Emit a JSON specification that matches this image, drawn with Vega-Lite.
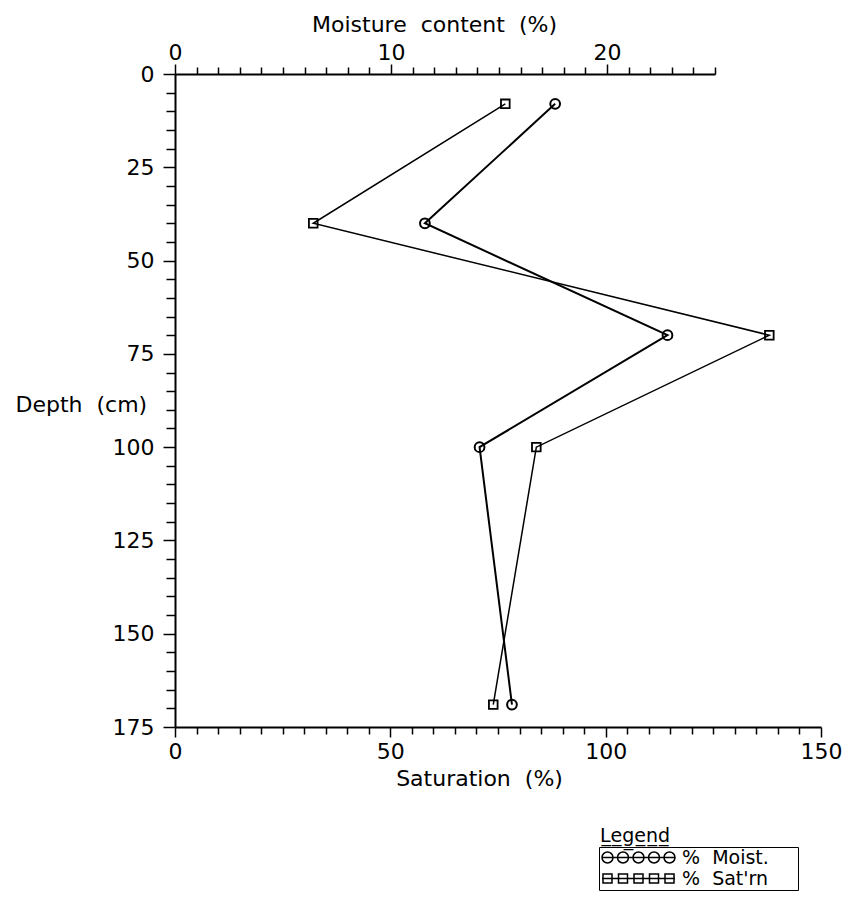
{
  "$schema": "https://vega.github.io/schema/vega-lite/v6.json",
  "width": 646,
  "height": 653,
  "autosize": "none",
  "padding": {"left": 175, "top": 74, "right": 27, "bottom": 171},
  "background": "white",
  "config": {
    "view": {"stroke": null},
    "font": "DejaVu Sans",
    "axis": {
      "grid": false,
      "domainColor": "black",
      "domainWidth": 2,
      "tickColor": "black",
      "tickWidth": 1.5,
      "labelColor": "black",
      "labelFont": "DejaVu Sans",
      "labelFontSize": 22,
      "labelFlush": false,
      "labelOverlap": false,
      "titleColor": "black",
      "titleFont": "DejaVu Sans",
      "titleFontSize": 22,
      "titleFontWeight": "normal"
    }
  },
  "encoding": {
    "y": {
      "field": "depth",
      "type": "quantitative",
      "scale": {"domain": [0, 175], "reverse": true, "nice": false, "zero": false},
      "axis": {
        "title": "Depth\u00a0\u00a0(cm)",
        "titleAngle": 0,
        "titleAlign": "left",
        "titleBaseline": "middle",
        "titleX": -160,
        "titleY": 330,
        "values": [0,5,10,15,20,25,30,35,40,45,50,55,60,65,70,75,80,85,90,95,100,105,110,115,120,125,130,135,140,145,150,155,160,165,170,175],
        "labelExpr": "datum.value % 25 === 0 ? datum.label : ''",
        "tickSize": {"condition": {"test": "datum.value % 25 === 0", "value": 12}, "value": 9},
        "labelPadding": 9
      }
    }
  },
  "layer": [
    {
      "data": {"values": [
        {"depth": 8, "moist": 17.6, "series": "Moist."},
        {"depth": 40, "moist": 11.57, "series": "Moist."},
        {"depth": 70, "moist": 22.8, "series": "Moist."},
        {"depth": 100, "moist": 14.1, "series": "Moist."},
        {"depth": 169, "moist": 15.6, "series": "Moist."}
      ]},
      "encoding": {
        "x": {
          "field": "moist",
          "type": "quantitative",
          "scale": {"domain": [0, 25], "range": [0, 540], "nice": false, "zero": false},
          "axis": {
            "orient": "top",
            "title": "Moisture\u00a0\u00a0content\u00a0\u00a0(%)",
            "titleX": 259,
            "titleY": -43,
            "titleBaseline": "alphabetic",
            "values": [0,1,2,3,4,5,6,7,8,9,10,11,12,13,14,15,16,17,18,19,20,21,22,23,24,25],
            "labelExpr": "datum.value % 10 === 0 ? datum.label : ''",
            "tickSize": {"condition": {"test": "datum.value % 10 === 0", "value": 10}, "value": 7},
            "labelPadding": 0
          }
        }
      },
      "layer": [
        {"mark": {"type": "line", "color": "black", "strokeWidth": 2}, "encoding": {"order": {"field": "depth", "type": "quantitative"}}},
        {"mark": {"type": "point", "shape": "circle", "color": "black", "strokeWidth": 2, "size": 95, "opacity": 1, "filled": false}}
      ]
    },
    {
      "data": {"values": [
        {"depth": 8, "sat": 76.7, "series": "Sat'rn"},
        {"depth": 40, "sat": 32.1, "series": "Sat'rn"},
        {"depth": 70, "sat": 138, "series": "Sat'rn"},
        {"depth": 100, "sat": 83.9, "series": "Sat'rn"},
        {"depth": 169, "sat": 73.9, "series": "Sat'rn"}
      ]},
      "encoding": {
        "x": {
          "field": "sat",
          "type": "quantitative",
          "scale": {"domain": [0, 150], "nice": false, "zero": false},
          "axis": {
            "orient": "bottom",
            "title": "Saturation\u00a0\u00a0(%)",
            "titleX": 304,
            "titleY": 58,
            "titleBaseline": "alphabetic",
            "values": [0,5,10,15,20,25,30,35,40,45,50,55,60,65,70,75,80,85,90,95,100,105,110,115,120,125,130,135,140,145,150],
            "labelExpr": "datum.value % 50 === 0 ? datum.label : ''",
            "tickSize": {"condition": {"test": "datum.value % 50 === 0", "value": 10}, "value": 7},
            "labelPadding": 4
          }
        }
      },
      "layer": [
        {"mark": {"type": "line", "color": "black", "strokeWidth": 1.5}, "encoding": {"order": {"field": "depth", "type": "quantitative"}}},
        {"mark": {"type": "point", "shape": "square", "color": "black", "strokeWidth": 1.8, "size": 75, "opacity": 1, "filled": false}},
        {"mark": {"type": "point", "color": "black", "strokeWidth": 1.5, "filled": false, "strokeOpacity": 0, "fillOpacity": 0},
         "encoding": {
           "shape": {"field": "series", "type": "nominal",
             "scale": {"domain": ["Moist.", "Sat'rn"], "range": [
               "M-7.3,0 L7.3,0 M-7.3,0 a1.1,1.1 0 1,0 2.2,0 a1.1,1.1 0 1,0 -2.2,0 M-4.2,0 a1.1,1.1 0 1,0 2.2,0 a1.1,1.1 0 1,0 -2.2,0 M-1.1,0 a1.1,1.1 0 1,0 2.2,0 a1.1,1.1 0 1,0 -2.2,0 M2,0 a1.1,1.1 0 1,0 2.2,0 a1.1,1.1 0 1,0 -2.2,0 M5.1,0 a1.1,1.1 0 1,0 2.2,0 a1.1,1.1 0 1,0 -2.2,0",
               "M-7.3,0 L7.3,0 M-7.1,-0.9 h1.8 v1.8 h-1.8 z M-4,-0.9 h1.8 v1.8 h-1.8 z M-0.9,-0.9 h1.8 v1.8 h-1.8 z M2.2,-0.9 h1.8 v1.8 h-1.8 z M5.3,-0.9 h1.8 v1.8 h-1.8 z"
             ]},
             "legend": {
               "orient": "none",
               "legendX": 424,
               "legendY": 773,
               "title": null,
               "padding": 1,
               "strokeColor": "black",
               "labelFont": "DejaVu Sans",
               "labelFontSize": 19,
               "labelColor": "black",
               "labelExpr": "'%\u00a0\u00a0' + datum.label + '\u2800\u2800'",
               "symbolSize": 100,
               "symbolStrokeColor": "black",
               "symbolStrokeWidth": 1.5,
               "symbolFillColor": "transparent",
               "symbolOpacity": 1,
               "symbolOffset": 29,
               "labelOffset": 34,
               "rowPadding": 1
             }
           },
           "opacity": {"datum": "Legend", "type": "ordinal",
             "scale": {"range": [0]},
             "legend": {
               "orient": "none",
               "legendX": 425,
               "legendY": 753,
               "title": "L\u0332e\u0332g\u0332e\u0332n\u0332d\u0332",
               "titleFont": "DejaVu Sans",
               "titleFontSize": 19,
               "titleFontWeight": "normal",
               "titleColor": "black",
               "padding": 0,
               "labelExpr": "''",
               "symbolSize": 0,
               "symbolOpacity": 0
             }
           }
         }}
      ]
    }
  ],
  "resolve": {"scale": {"x": "independent"}, "axis": {"x": "independent"}}
}
